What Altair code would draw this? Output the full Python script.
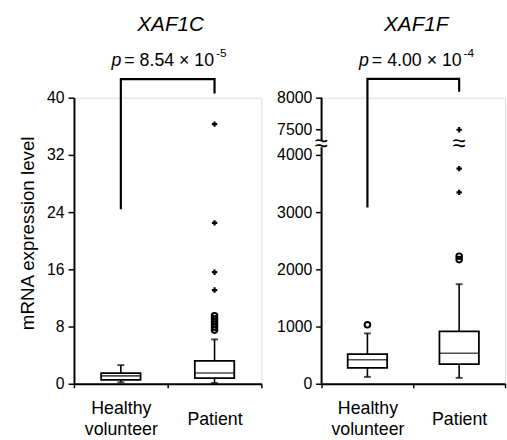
import altair as alt
import pandas as pd

FONT = "Liberation Sans"

groups = ["Healthy volunteer", "Patient"]

# XAF1C box statistics
c_low = [0.2, 0.1]
c_q1 = [0.55, 0.8]
c_median = [1.1, 1.5]
c_q3 = [1.5, 3.2]
c_high = [2.6, 6.2]
c_circle_values = [7.5, 7.9, 8.3, 8.7, 9.1, 9.5]
c_circle_groups = ["Patient"] * 6
c_cross_values = [13.1, 15.6, 22.5, 36.3]
c_cross_groups = ["Patient"] * 4
c_ticks = [0, 8, 16, 24, 32, 40]
c_bracket = [24.4, 42.6, 42.6, 40.6]

# XAF1F box statistics
f_low = [120, 103]
f_q1 = [276, 345]
f_median = [420, 534]
f_q3 = [517, 914]
f_high = [880, 1740]
f_circle_values = [1030, 2170, 2230]
f_circle_groups = ["Healthy volunteer", "Patient", "Patient"]
f_cross_values = [3345, 3760, 7440]
f_cross_groups = ["Patient"] * 3
f_ticks = [0, 1000, 2000, 3000, 4000, 7500, 8000]
f_bracket = [3080, 8297, 8297, 8094]
f_break = [5500]
f_axis_lo = [0, 5950]
f_axis_hi = [5050, 8000]

bracket_groups = ["Healthy volunteer", "Healthy volunteer", "Patient", "Patient"]


def panel(title, p_main, p_exp, low, q1, med, q3, high, circ_v, circ_g,
          cross_v, cross_g, bracket, yscale, ticks, ytitle, width, draw_axis_breaks=False):
    box_df = pd.DataFrame({"group": groups, "low": low, "q1": q1, "median": med,
                           "q3": q3, "high": high})
    circ_df = pd.DataFrame({"group": circ_g, "v": circ_v})
    cross_df = pd.DataFrame({"group": cross_g, "v": cross_v})
    br_df = pd.DataFrame({"group": bracket_groups, "v": bracket, "i": [0, 1, 2, 3]})

    xaxis = alt.Axis(title=None, labelAngle=0, labelFont=FONT, labelFontSize=18,
                     labelColor="black", labelExpr="split(datum.label, ' ')",
                     labelBaseline="top",
                     labelPadding={"condition": {"test": "datum.value === 'Patient'",
                                                 "value": 23},
                                   "value": 12},
                     labelLineHeight=21,
                     tickBand="extent", tickSize=4, tickColor="black", tickWidth=1.5,
                     domainColor="black", domainWidth=2, grid=False, labelOverlap=False)
    X = lambda: alt.X("group:N", scale=alt.Scale(domain=groups, paddingInner=0,
                                                 paddingOuter=0), axis=xaxis)
    yaxis_kw = dict(values=ticks, title=ytitle, titleFont=FONT, titleFontSize=19,
                    titleFontWeight="normal", titleColor="black", titlePadding=9,
                    labelFont=FONT, labelFontSize=16, labelColor="black",
                    labelPadding=4, tickSize=6, tickColor="black", tickWidth=1.5,
                    domain=not draw_axis_breaks, domainColor="black", domainWidth=2,
                    grid=False, format="d")
    if ytitle:
        yaxis_kw["titleY"] = 137
    yaxis = alt.Axis(**yaxis_kw)

    def Y(field):
        return alt.Y(field, scale=yscale, axis=yaxis, title=ytitle)

    layers = []
    base = alt.Chart(box_df)
    layers.append(base.mark_rule(color="black", strokeWidth=1.6).encode(
        x=X(), y=Y("low:Q"), y2="q1:Q"))
    layers.append(base.mark_rule(color="black", strokeWidth=1.6).encode(
        x=X(), y=Y("q3:Q"), y2="high:Q"))
    layers.append(base.mark_tick(color="black", size=7, thickness=2).encode(
        x=X(), y=Y("high:Q")))
    layers.append(base.mark_tick(color="black", size=7, thickness=2).encode(
        x=X(), y=Y("low:Q")))
    layers.append(base.mark_bar(size=40, fill="white", stroke="black",
                                strokeWidth=1.8).encode(x=X(), y=Y("q1:Q"), y2="q3:Q"))
    layers.append(base.mark_tick(color="black", size=40, thickness=1.6).encode(
        x=X(), y=Y("median:Q")))
    layers.append(alt.Chart(circ_df).mark_point(shape="circle", filled=False,
                                                color="black", size=32,
                                                strokeWidth=2, opacity=1).encode(
        x=X(), y=Y("v:Q")))
    layers.append(alt.Chart(cross_df).mark_point(shape="cross", filled=True,
                                                 color="black", size=30,
                                                 opacity=1).encode(
        x=X(), y=Y("v:Q")))
    layers.append(alt.Chart(br_df).mark_line(color="black", strokeWidth=2.2,
                                             clip=False).encode(
        x=X(), y=Y("v:Q"), order="i:Q"))

    if draw_axis_breaks:
        seg_df = pd.DataFrame({"lo": f_axis_lo, "hi": f_axis_hi})
        layers.append(alt.Chart(seg_df).mark_rule(color="black", strokeWidth=2).encode(
            x=alt.value(0), y=Y("lo:Q"), y2="hi:Q"))
        brk_df = pd.DataFrame({"v": f_break, "group": ["Patient"]})
        layers.append(alt.Chart(brk_df).mark_text(text="≈", font=FONT, fontSize=24,
                                                  color="black", baseline="middle",
                                                  align="center").encode(
            x=alt.value(0), y=Y("v:Q")))
        layers.append(alt.Chart(brk_df).mark_text(text="≈", font=FONT, fontSize=24,
                                                  color="black", baseline="middle",
                                                  align="center").encode(
            x=X(), y=Y("v:Q")))

    ann = alt.Chart(pd.DataFrame({"a": [0]}))
    mid = width / 2
    layers.append(ann.mark_text(text=title, font=FONT, fontSize=21, fontStyle="italic",
                                color="black", align="center",
                                baseline="alphabetic").encode(
        x=alt.value(mid + 3), y=alt.value(-68)))
    layers.append(ann.mark_text(text="p", font=FONT, fontSize=18, fontStyle="italic",
                                color="black", align="left",
                                baseline="alphabetic").encode(
        x=alt.value(38), y=alt.value(-32)))
    layers.append(ann.mark_text(text=p_main, font=FONT, fontSize=18,
                                color="black", align="left",
                                baseline="alphabetic").encode(
        x=alt.value(51), y=alt.value(-32)))
    layers.append(ann.mark_text(text=p_exp, font=FONT, fontSize=12,
                                color="black", align="left",
                                baseline="alphabetic").encode(
        x=alt.value(144), y=alt.value(-41)))

    return alt.layer(*layers).properties(width=width, height=290)


left = panel("XAF1C", "= 8.54 × 10", "-5", c_low, c_q1, c_median, c_q3, c_high,
             c_circle_values, c_circle_groups, c_cross_values, c_cross_groups,
             c_bracket,
             alt.Scale(domain=[0, 40], nice=False, zero=True),
             c_ticks, "mRNA  expression level", 190)

right = panel("XAF1F", "= 4.00 × 10", "-4", f_low, f_q1, f_median, f_q3, f_high,
              f_circle_values, f_circle_groups, f_cross_values, f_cross_groups,
              f_bracket,
              alt.Scale(domain=[0, 4000, 7500, 8000], range=[290, 58, 32, 0],
                        nice=False, zero=False),
              f_ticks, None, 186, draw_axis_breaks=True)

chart = alt.hconcat(left, right, spacing=12).properties(
    padding={"left": 18, "top": 10, "right": 0, "bottom": 0},
    background="white",
).configure_view(stroke=None).configure(font=FONT)

chart.save("out.html", embed_options={"renderer": "svg", "actions": False})
